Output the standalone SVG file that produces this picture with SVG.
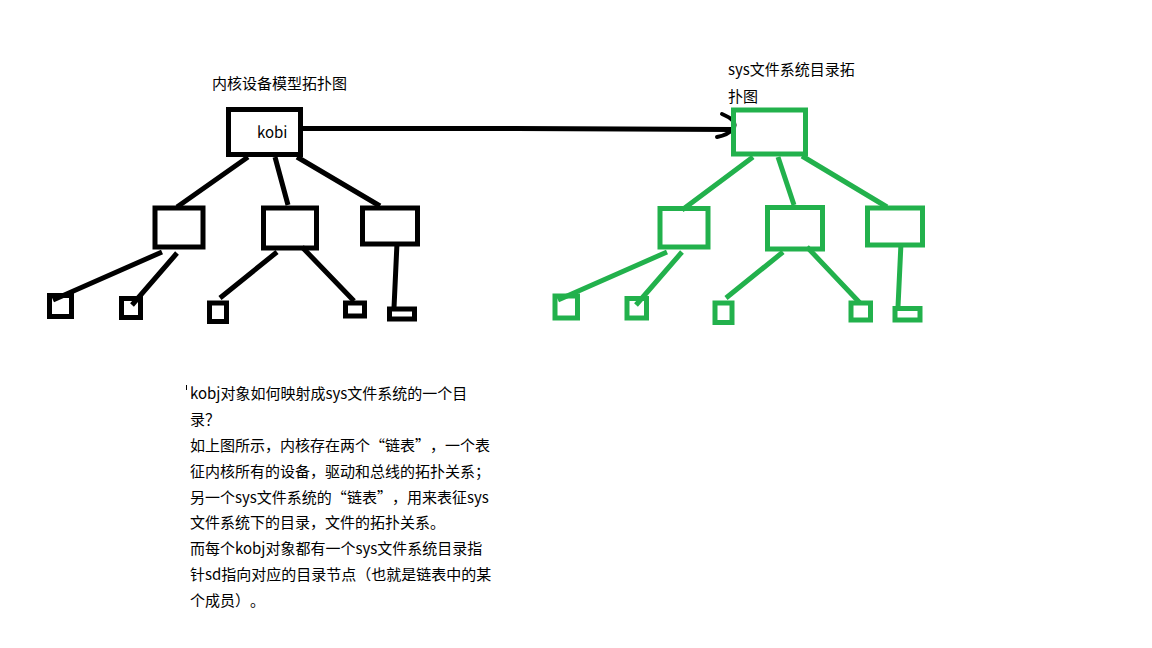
<svg xmlns="http://www.w3.org/2000/svg" width="1152" height="648" viewBox="0 0 1152 648">
<style>
.k{fill:none;stroke:#000;stroke-width:5}
.g{fill:none;stroke:#22b14c;stroke-width:5}
.kl{stroke:#000;stroke-width:5;fill:none}
.gl{stroke:#22b14c;stroke-width:5;fill:none}
text{font-family:"Noto Sans CJK SC","Microsoft YaHei",sans-serif;font-size:15px;fill:#000;text-spacing-trim:space-all}
.fw{font-feature-settings:"fwid" 1}
</style>
<rect width="1152" height="648" fill="#fff"/>
<g id="connectors">
<path class="kl" d="M248,157 L177,207 M275,157 L288,205 M297,157 L380,206"/>
<path class="kl" d="M162,252 L53,300 M177,253 L132,305 M277,252 L220,298 M302,247 L354,301 M397,243 L394,308"/>
<path class="gl" d="M753,157 L682,210 M778,157 L794,205 M802,156 L887,207"/>
<path class="gl" d="M667,252 L558,300 M682,252 L636,305 M783,252 L726,298 M807,247 L860,303 M901,243 L898,307"/>
<path class="kl" d="M303,128.5 L516,128.5 L733,129.5"/>
<path d="M722,114 Q739,121 733,129 Q728,135 717,137" fill="none" stroke="#000" stroke-width="4" stroke-linecap="round"/>
</g>
<g id="left-title"><text x="212" y="89">内核设备模型拓扑图</text></g>
<g id="kobj"><rect class="k" x="228.5" y="109.5" width="72" height="45"/><text x="257" y="138" fill="#2a1a05">kobi</text></g>
<g id="l-mid1"><rect class="k" x="155" y="208" width="48" height="39"/></g>
<g id="l-mid2"><rect class="k" x="263.5" y="208" width="53" height="40"/></g>
<g id="l-mid3"><rect class="k" x="362.5" y="208" width="55" height="36"/></g>
<g id="l-leaf1"><rect class="k" x="49.5" y="295.5" width="22" height="21"/></g>
<g id="l-leaf2"><rect class="k" x="121.5" y="298.5" width="19" height="19"/></g>
<g id="l-leaf3"><rect class="k" x="209.5" y="303" width="17" height="18.5"/></g>
<g id="l-leaf4"><rect class="k" x="345.5" y="303" width="19" height="13"/></g>
<g id="l-leaf5"><rect class="k" x="389.5" y="309" width="25" height="10"/></g>
<g id="right-title"><text x="728" y="75">sys文件系统目录拓</text><text x="728" y="102">扑图</text></g>
<g id="sys-root"><rect class="g" x="733.5" y="110" width="72" height="44"/></g>
<g id="r-mid1"><rect class="g" x="660" y="208.5" width="48" height="38.5"/></g>
<g id="r-mid2"><rect class="g" x="767.5" y="207.5" width="55" height="41.5"/></g>
<g id="r-mid3"><rect class="g" x="867.5" y="208" width="55" height="37"/></g>
<g id="r-leaf1"><rect class="g" x="555" y="296" width="22.5" height="22"/></g>
<g id="r-leaf2"><rect class="g" x="627" y="298.5" width="19.5" height="19.5"/></g>
<g id="r-leaf3"><rect class="g" x="715" y="303" width="17" height="19.5"/></g>
<g id="r-leaf4"><rect class="g" x="851" y="303" width="19.5" height="17"/></g>
<g id="r-leaf5"><rect class="g" x="895" y="308.5" width="25" height="11.5"/></g>
<g id="description">
<rect x="186" y="385" width="1" height="5" fill="#000"/>
<text x="190" y="399">kobj对象如何映射成sys文件系统的一个目</text>
<text x="190" y="425">录？</text>
<text x="190" y="451">如上图所示，内核存在两个<tspan class="fw">“</tspan>链表<tspan class="fw">”</tspan>，一个表</text>
<text x="190" y="477">征内核所有的设备，驱动和总线的拓扑关系；</text>
<text x="190" y="503">另一个sys文件系统的<tspan class="fw">“</tspan>链表<tspan class="fw">”</tspan>，用来表征sys</text>
<text x="190" y="528">文件系统下的目录，文件的拓扑关系。</text>
<text x="190" y="554">而每个kobj对象都有一个sys文件系统目录指</text>
<text x="190" y="580">针sd指向对应的目录节点（也就是链表中的某</text>
<text x="190" y="606">个成员）。</text>
</g>
</svg>
